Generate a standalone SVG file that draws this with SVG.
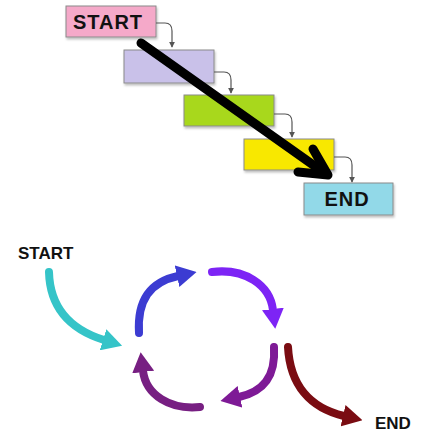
<svg xmlns="http://www.w3.org/2000/svg" width="423" height="432" viewBox="0 0 423 432">
  <style>
    .box { stroke: #8a8a8a; stroke-width: 1; }
    .lbl { font-family: "Liberation Sans", Arial, sans-serif; font-weight: bold; fill: #111; }
    .conn { fill: none; stroke: #555; stroke-width: 1.2; }
    .cyc { fill: none; stroke-width: 8; stroke-linecap: round; }
  </style>
  <defs>
    <filter id="sh" x="-10%" y="-10%" width="130%" height="140%">
      <feDropShadow dx="1" dy="2" stdDeviation="1.2" flood-color="#000" flood-opacity="0.25"/>
    </filter>
    <marker id="sm" viewBox="0 0 8 8" refX="7" refY="4" markerWidth="6" markerHeight="6" markerUnits="userSpaceOnUse" orient="auto">
      <path d="M0,0 L8,4 L0,8 z" fill="#555"/>
    </marker>
    <marker id="m-cyan" viewBox="0 0 20 22" refX="1" refY="11" markerWidth="20" markerHeight="22" markerUnits="userSpaceOnUse" orient="auto">
      <path d="M0,0 L20,11 L0,22 z" fill="#35c4c8"/>
    </marker>
    <marker id="m-blue" viewBox="0 0 20 22" refX="1" refY="11" markerWidth="20" markerHeight="22" markerUnits="userSpaceOnUse" orient="auto">
      <path d="M0,0 L20,11 L0,22 z" fill="#3c3cd2"/>
    </marker>
    <marker id="m-violet" viewBox="0 0 20 22" refX="1" refY="11" markerWidth="20" markerHeight="22" markerUnits="userSpaceOnUse" orient="auto">
      <path d="M0,0 L20,11 L0,22 z" fill="#7d24f5"/>
    </marker>
    <marker id="m-purple1" viewBox="0 0 20 22" refX="1" refY="11" markerWidth="20" markerHeight="22" markerUnits="userSpaceOnUse" orient="auto">
      <path d="M0,0 L20,11 L0,22 z" fill="#7e1a96"/>
    </marker>
    <marker id="m-purple2" viewBox="0 0 20 22" refX="1" refY="11" markerWidth="20" markerHeight="22" markerUnits="userSpaceOnUse" orient="auto">
      <path d="M0,0 L20,11 L0,22 z" fill="#771f82"/>
    </marker>
    <marker id="m-red" viewBox="0 0 20 22" refX="1" refY="11" markerWidth="20" markerHeight="22" markerUnits="userSpaceOnUse" orient="auto">
      <path d="M0,0 L20,11 L0,22 z" fill="#7a0c12"/>
    </marker>
  </defs>
  <rect width="423" height="432" fill="#fff"/>

  <!-- Waterfall nodes -->
  <g id="w-start">
    <rect class="box" x="66" y="6" width="90" height="31" fill="#f5a9c9" filter="url(#sh)"/>
    <text class="lbl" x="108" y="29" font-size="20" text-anchor="middle" letter-spacing="1">START</text>
  </g>
  <g id="w-step2">
    <rect class="box" x="124" y="50" width="90" height="33" fill="#c9c1e9" filter="url(#sh)"/>
  </g>
  <g id="w-step3">
    <rect class="box" x="184" y="95" width="90" height="31" fill="#a8d81c" filter="url(#sh)"/>
  </g>
  <g id="w-step4">
    <rect class="box" x="244" y="139" width="90" height="31" fill="#f8e800" filter="url(#sh)"/>
  </g>
  <g id="w-end">
    <rect class="box" x="304" y="183" width="89" height="32" fill="#92d9e8" filter="url(#sh)"/>
    <text class="lbl" x="347" y="206" font-size="20" text-anchor="middle" letter-spacing="1">END</text>
  </g>

  <!-- Waterfall connectors -->
  <g id="w-connectors">
    <path class="conn" d="M156,23 L165,23 Q172,23 172,31 L172,47" marker-end="url(#sm)"/>
    <path class="conn" d="M214,72 L224,72 Q231,72 231,80 L231,93" marker-end="url(#sm)"/>
    <path class="conn" d="M274,114 L285,114 Q292,114 292,122 L292,137" marker-end="url(#sm)"/>
    <path class="conn" d="M334,157 L345,157 Q352,157 352,165 L352,182" marker-end="url(#sm)"/>
    <g fill="none" stroke="#000" stroke-width="9" stroke-linecap="round" stroke-linejoin="round">
      <line x1="141" y1="43" x2="326" y2="174"/>
      <polyline points="313,149 328,175 298,172"/>
    </g>
  </g>

  <!-- Cycle labels -->
  <g id="c-start">
    <text class="lbl" x="18" y="259" font-size="17">START</text>
  </g>
  <g id="c-end">
    <text class="lbl" x="375" y="429" font-size="17">END</text>
  </g>

  <!-- Cycle arrows -->
  <g id="c-connectors">
    <path class="cyc" stroke="#35c4c8" stroke-width="7" d="M49,272 C50,310 72,330 104,340" marker-end="url(#m-cyan)"/>
    <path class="cyc" stroke="#3c3cd2" d="M139,333 C137,300 150,282 178,276" marker-end="url(#m-blue)"/>
    <path class="cyc" stroke="#7d24f5" d="M212,272 C245,268 270,285 273,310" marker-end="url(#m-violet)"/>
    <path class="cyc" stroke="#7e1a96" d="M274,347 C276,378 262,392 239,397" marker-end="url(#m-purple1)"/>
    <path class="cyc" stroke="#771f82" d="M200,407 C170,410 146,395 143,371" marker-end="url(#m-purple2)"/>
    <path class="cyc" stroke="#7a0c12" d="M288,347 C290,385 310,408 344,416" marker-end="url(#m-red)"/>
  </g>
</svg>
